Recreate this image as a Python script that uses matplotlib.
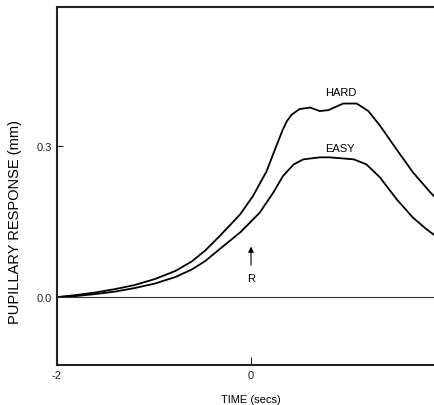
import numpy as np
import matplotlib
matplotlib.use("Agg")
import matplotlib.pyplot as plt

# -------------------------------
# DATA
# -------------------------------
time_hard = [-2.0, -1.81, -1.61, -1.40, -1.20, -0.99, -0.78, -0.61, -0.47, -0.32,
             -0.11, 0.02, 0.16, 0.27, 0.33, 0.37, 0.42, 0.50, 0.61, 0.71, 0.80,
             0.95, 1.09, 1.21, 1.33, 1.50, 1.67, 1.85, 1.90]
hard = [0.0, 0.004, 0.009, 0.016, 0.024, 0.036, 0.052, 0.071, 0.093, 0.122,
        0.165, 0.201, 0.250, 0.305, 0.334, 0.350, 0.363, 0.374, 0.377, 0.370, 0.372,
        0.385, 0.385, 0.370, 0.341, 0.294, 0.248, 0.208, 0.198]

time_easy = [-2.0, -1.81, -1.61, -1.40, -1.20, -0.99, -0.78, -0.61, -0.47, -0.32,
             -0.11, 0.09, 0.23, 0.33, 0.44, 0.54, 0.71, 0.81, 1.06, 1.19,
             1.33, 1.50, 1.67, 1.81, 1.90]
easy = [0.0, 0.002, 0.006, 0.011, 0.018, 0.027, 0.040, 0.055, 0.072, 0.096,
        0.129, 0.168, 0.208, 0.241, 0.264, 0.274, 0.278, 0.278, 0.274, 0.264,
        0.238, 0.195, 0.158, 0.135, 0.122]

y_ticks = [0.0, 0.3]
y_tick_labels = ["0.0", "0.3"]
x_ticks = [-2, 0]
x_tick_labels = ["-2", "0"]

# -------------------------------
# PLOT
# -------------------------------
plt.rcParams["font.family"] = ["Liberation Sans", "DejaVu Sans"]

fig = plt.figure(figsize=(4.35, 4.06), dpi=100)
# axes runs past the right edge, like the cropped original
ax = fig.add_axes([57 / 435, 40 / 406, 388 / 435, 358 / 406])

ax.plot(time_hard, hard, color="black", lw=1.3, solid_joinstyle="round")
ax.plot(time_easy, easy, color="black", lw=1.3, solid_joinstyle="round")
ax.axhline(0, color="#333333", lw=0.8)

ax.set_xlim(-2, 2)
ax.set_ylim(-0.135, 0.577)

ax.set_xticks(x_ticks)
ax.set_xticklabels(x_tick_labels)
ax.set_yticks(y_ticks)
ax.set_yticklabels(y_tick_labels)
ax.tick_params(direction="in", length=6, width=0.8, labelsize=8, colors="#222222")
ax.tick_params(axis="y", length=4)

for side in ["left", "bottom", "top", "right"]:
    ax.spines[side].set_linewidth(1.5)
    ax.spines[side].set_color("#222222")

ax.text(0.93, 0.407, "HARD", ha="center", va="center", fontsize=8)
ax.text(0.92, 0.296, "EASY", ha="center", va="center", fontsize=8)
ax.annotate("", xy=(0, 0.106), xytext=(0, 0.058),
            arrowprops=dict(arrowstyle="-|>", color="black", lw=0.8,
                            mutation_scale=8))
ax.text(0, 0.038, "R", ha="center", va="center", fontsize=8)

ax.set_xlabel("TIME (secs)", fontsize=8, labelpad=10)
ax.text(-2.43, 0.151, "PUPILLARY RESPONSE (mm)", rotation=90,
        ha="center", va="center", fontsize=10.5)

fig.savefig("out.png", dpi=100)
